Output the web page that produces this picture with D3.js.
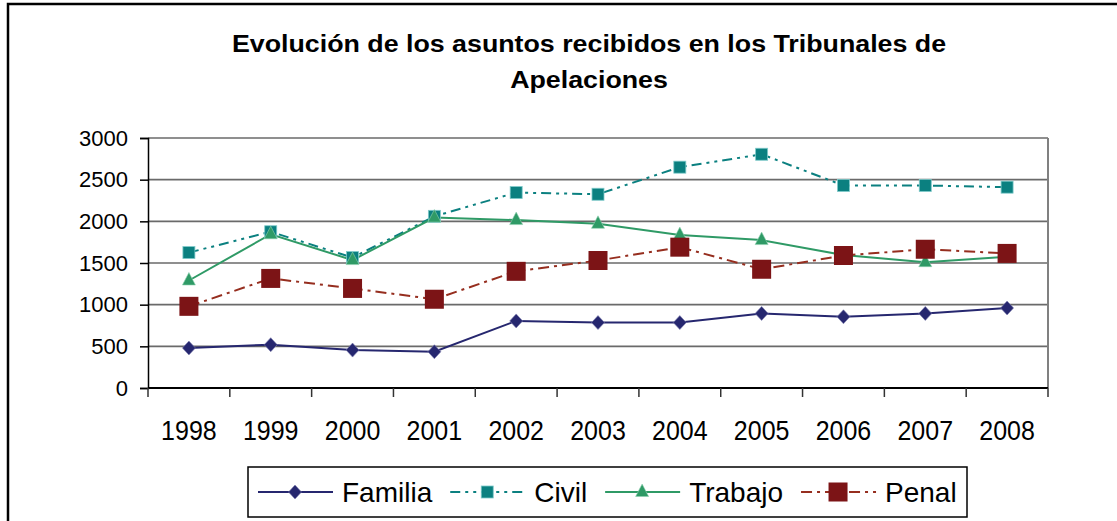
<!DOCTYPE html>
<html>
<head>
<meta charset="utf-8">
<script src="https://cdn.jsdelivr.net/npm/d3@7"></script>
<style>
  body { margin: 0; background: #fff; }
  svg { display: block; font-family: "Liberation Sans", Arial, sans-serif; }
</style>
</head>
<body>
<svg id="chart"></svg>
<script>
const years = ["1998", "1999", "2000", "2001", "2002", "2003", "2004", "2005", "2006", "2007", "2008"];
const yTicks = [0, 500, 1000, 1500, 2000, 2500, 3000];
const familia = [480, 520, 455, 435, 805, 785, 785, 895, 855, 895, 960];
const civil = [1625, 1875, 1565, 2060, 2345, 2325, 2650, 2805, 2430, 2430, 2410];
const trabajo = [1290, 1845, 1535, 2045, 2015, 1970, 1835, 1775, 1595, 1510, 1575];
const penal = [980, 1315, 1195, 1065, 1400, 1530, 1690, 1425, 1590, 1665, 1615];
const titleLines = ["Evolución de los asuntos recibidos en los Tribunales de", "Apelaciones"];

const width = 1117;
const height = 521;

const series = [
    {name: "Familia", values: familia, color: "#26276f", dash: null, marker: "diamond"},
    {name: "Civil", values: civil, color: "#0b8080", dash: "10,5,3,5,3,5", marker: "square"},
    {name: "Trabajo", values: trabajo, color: "#2f9a66", dash: null, marker: "triangle"},
    {name: "Penal", values: penal, color: "#962e1f", fill: "#7c1416", dash: "11,5,3,5", marker: "bigsquare"}
];

const svg = d3.select("#chart")
    .attr("width", width)
    .attr("height", height);

// outer frame of the chart area (runs off the right and bottom edge)
svg.append("rect")
    .attr("x", 8)
    .attr("y", 4)
    .attr("width", 1300)
    .attr("height", 700)
    .attr("fill", "none")
    .attr("stroke", "#000")
    .attr("stroke-width", 2.5);

// title is a bit wider than the font, so stretch it sideways
const title = svg.append("text")
    .attr("transform", "translate(589,0) scale(1.116,1)")
    .attr("text-anchor", "middle")
    .attr("font-weight", "bold")
    .attr("font-size", "24px")
    .attr("fill", "#000");

title.selectAll("tspan")
    .data(titleLines)
    .enter()
    .append("tspan")
    .attr("x", 0)
    .attr("y", (d, i) => 52 + i * 36.5)
    .text(d => d);

const x = d3.scaleBand()
    .domain(years)
    .range([148, 1048]);

const y = d3.scaleLinear()
    .domain([0, 3000])
    .range([388, 138]);

// grid
svg.append("g")
    .selectAll("line")
    .data(yTicks.filter(d => d > 0))
    .enter()
    .append("line")
    .attr("x1", 148)
    .attr("x2", 1048)
    .attr("y1", d => y(d))
    .attr("y2", d => y(d))
    .attr("stroke", "#6a6a6a")
    .attr("stroke-width", 1.6);

// right border of the plot
svg.append("line")
    .attr("x1", 1048).attr("x2", 1048)
    .attr("y1", y(3000)).attr("y2", y(0))
    .attr("stroke", "#808080")
    .attr("stroke-width", 2);

// y axis
const yAxis = svg.append("g")
    .attr("transform", "translate(148,0)")
    .call(d3.axisLeft(y).tickValues(yTicks).tickFormat(d3.format("d")).tickSize(8).tickPadding(12));

yAxis.select(".domain").attr("stroke", "#000").attr("stroke-width", 1.5);
yAxis.selectAll(".tick line").attr("stroke", "#000").attr("stroke-width", 1.5);
yAxis.selectAll(".tick text")
    .attr("font-size", "22px")
    .attr("font-family", "Liberation Sans, Arial, sans-serif")
    .attr("fill", "#000");

// x axis: ticks sit between the categories
const xAxis = svg.append("g")
    .attr("transform", `translate(0,${y(0)})`);

xAxis.append("line")
    .attr("x1", 148).attr("x2", 1048)
    .attr("stroke", "#000")
    .attr("stroke-width", 1.8);

xAxis.selectAll("line.tick")
    .data(years.concat(["end"]))
    .enter()
    .append("line")
    .attr("class", "tick")
    .attr("x1", d => d === "end" ? 1048 : x(d))
    .attr("x2", d => d === "end" ? 1048 : x(d))
    .attr("y1", 0)
    .attr("y2", 9)
    .attr("stroke", "#333")
    .attr("stroke-width", 1.5);

xAxis.selectAll("text")
    .data(years)
    .enter()
    .append("text")
    .attr("transform", d => `translate(${x(d) + x.bandwidth() / 2},52) scale(1,1.1)`)
    .attr("text-anchor", "middle")
    .attr("font-size", "25px")
    .attr("fill", "#000")
    .text(d => d);

function drawMarker(g, type, s) {
    if (type === "diamond") {
        g.append("path")
            .attr("d", "M0,-7L6.5,0L0,7L-6.5,0Z")
            .attr("fill", s.color)
            .attr("stroke", "#7f80b0")
            .attr("stroke-width", 0.6);
    } else if (type === "square") {
        g.append("rect")
            .attr("x", -6).attr("y", -6)
            .attr("width", 12).attr("height", 12)
            .attr("fill", s.color)
            .attr("stroke", "#7fcaca")
            .attr("stroke-width", 0.8);
    } else if (type === "triangle") {
        g.append("path")
            .attr("d", "M0,-8L6.5,4.5L-6.5,4.5Z")
            .attr("fill", s.color)
            .attr("stroke", "#8fd0b0")
            .attr("stroke-width", 0.6);
    } else {
        g.append("rect")
            .attr("x", -9.5).attr("y", -9.5)
            .attr("width", 19).attr("height", 19)
            .attr("fill", s.fill);
    }
}

const line = d3.line()
    .x((d, i) => x(years[i]) + x.bandwidth() / 2)
    .y(d => y(d));

const plot = svg.append("g");

series.forEach(s => {
    plot.append("path")
        .datum(s.values)
        .attr("d", line)
        .attr("fill", "none")
        .attr("stroke", s.color)
        .attr("stroke-width", 2)
        .attr("stroke-dasharray", s.dash);
});

series.forEach(s => {
    plot.append("g")
        .selectAll("g")
        .data(s.values)
        .enter()
        .append("g")
        .attr("transform", (d, i) => `translate(${x(years[i]) + x.bandwidth() / 2},${y(d)})`)
        .each(function() { drawMarker(d3.select(this), s.marker, s); });
});

// legend
const legend = svg.append("g");

legend.append("rect")
    .attr("x", 248)
    .attr("y", 467)
    .attr("width", 719)
    .attr("height", 50)
    .attr("fill", "#fff")
    .attr("stroke", "#000")
    .attr("stroke-width", 1.5);

let lx = 258;
series.forEach(s => {
    const item = legend.append("g").attr("transform", `translate(${lx},492)`);
    item.append("line")
        .attr("x1", 0).attr("x2", 75)
        .attr("stroke", s.color)
        .attr("stroke-width", 2)
        .attr("stroke-dasharray", s.dash);
    drawMarker(item.append("g").attr("transform", "translate(37,0)"), s.marker, s);
    const t = item.append("text")
        .attr("x", 84)
        .attr("y", 10)
        .attr("font-size", "28px")
        .attr("fill", "#000")
        .text(s.name);
    lx += 84 + t.node().getComputedTextLength() + 18;
});
</script>
</body>
</html>
